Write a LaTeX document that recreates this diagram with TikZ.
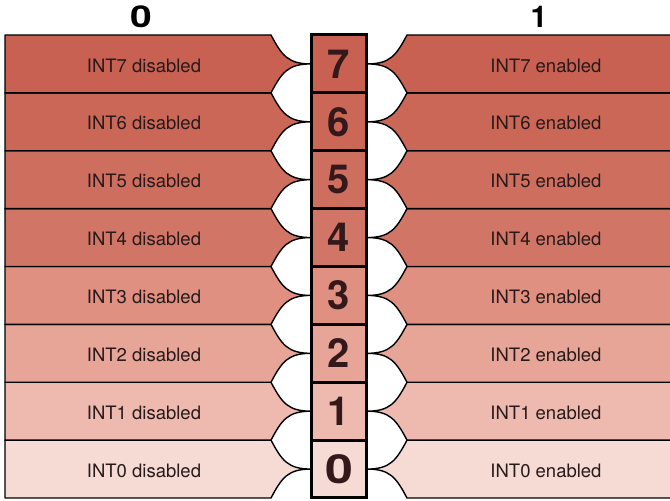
\documentclass[tikz,border=0pt]{standalone}
\usepackage{fontspec}
\setmainfont{TeX Gyre Heros}
\definecolor{c7}{RGB}{200,97,81}
\definecolor{c6}{RGB}{202,103,87}
\definecolor{c5}{RGB}{205,110,94}
\definecolor{c4}{RGB}{209,118,102}
\definecolor{c3}{RGB}{223,144,129}
\definecolor{c2}{RGB}{231,165,152}
\definecolor{c1}{RGB}{238,186,176}
\definecolor{c0}{RGB}{246,219,213}
\definecolor{ink}{RGB}{40,26,26}
\definecolor{digit}{RGB}{52,24,26}
\tikzset{
  band/.style={draw=black, line width=1.4pt, line join=round},
  bitbox/.style={draw=black, line width=3pt, minimum width=55pt, minimum height=57.875pt, inner sep=0pt, text=digit, font=\bfseries\fontsize{40}{40}\selectfont},
  lbl/.style={text=ink, font=\fontsize{18.5}{19}\selectfont},
  head/.style={text=black, font=\bfseries\fontsize{30}{30}\selectfont}
}
\begin{document}
\begin{tikzpicture}[x=1pt,y=1pt]
\useasboundingbox (0,0) rectangle (670,501);
\clip (0,0) rectangle (670,501);
\fill[white] (0,0) rectangle (670,501);
\foreach \i in {0,...,7} {
  \pgfmathsetmacro\ylo{3+\i*57.875}
  \pgfmathsetmacro\yhi{\ylo+57.875}
  \pgfmathsetmacro\ym{\ylo+28.9375}
  \filldraw[band, fill=c\i] (5,\ylo) -- (271,\ylo) to[out=62,in=180,looseness=1.2] (311,\ym) to[out=180,in=298,looseness=1.2] (271,\yhi) -- (5,\yhi) -- cycle;
  \filldraw[band, fill=c\i] (676,\ylo) -- (407,\ylo) to[out=118,in=0,looseness=1.2] (367,\ym) to[out=0,in=242,looseness=1.2] (407,\yhi) -- (676,\yhi) -- cycle;
  \node[lbl] (dis\i) at (144,\ym-1.5) {INT\i\ disabled};
  \node[lbl] (en\i) at (546,\ym-1.5) {INT\i\ enabled};
}
\foreach \i in {1,...,7} {
  \pgfmathsetmacro\ym{3+\i*57.875+28.9375}
  \node[bitbox, fill=c\i] (bit\i) at (339,\ym) {\i};
}
\node[bitbox, fill=c0] (bit0) at (339,31.9375) {\scalebox{1.25}[1]{0}};
\node[head] (h0) at (141,484) {\scalebox{1.3}[1]{0}};
\node[head] (h1) at (539,484) {1};
\end{tikzpicture}
\end{document}
